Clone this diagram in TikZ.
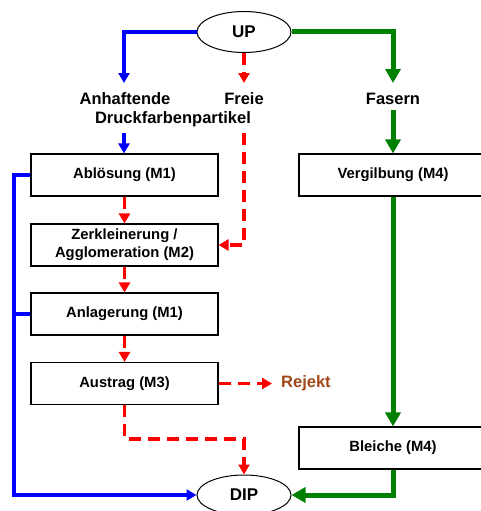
\documentclass[tikz,border=0pt]{standalone}
\usepackage{fontspec}
\setmainfont{Liberation Sans}
\usetikzlibrary{shapes.geometric,arrows.meta}
\definecolor{rejbrown}{RGB}{160,72,24}
\definecolor{grn}{RGB}{0,128,0}
\tikzset{
  boxtext/.style={font=\bfseries\fontsize{14.8}{18}\selectfont},
  proc/.style={draw=black, line width=1.1pt, rectangle, minimum height=42pt, align=center, inner sep=0pt, boxtext},
  lproc/.style={proc, minimum width=187pt},
  rproc/.style={proc, minimum width=188pt},
  oval/.style={draw=black, line width=1pt, ellipse, minimum width=94pt, minimum height=41pt, inner sep=0pt, font=\bfseries\fontsize{17}{20}\selectfont},
  lbl/.style={inner sep=0pt, font=\bfseries\fontsize{16.5}{20}\selectfont},
  blueline/.style={draw=blue, line width=4pt, -{Triangle[width=11pt,length=10pt]}},
  bluenoarrow/.style={draw=blue, line width=4pt},
  greenline/.style={draw=grn, line width=5pt, -{Triangle[width=15pt,length=14pt]}},
  redline/.style={draw=red, line width=3.6pt, dash pattern=on 12pt off 7pt, -{Triangle[width=11pt,length=10pt]}},
}
\begin{document}
\begin{tikzpicture}[x=1pt,y=-1pt]
\useasboundingbox (0,0) rectangle (481,511);
% nodes
\node[oval] (up) at (244,32) {UP};
\node[oval, minimum height=40pt] (dip) at (244,495) {DIP};
\node[lbl] (anh) at (125,98.5) {Anhaftende};
\node[lbl] (druck) at (173,119) {Druckfarbenpartikel};
\node[lbl] (freie) at (244,98.5) {Freie};
\node[lbl] (fas) at (393,98.5) {Fasern};
\node[lproc] (abl) at (124.5,175) {Ablösung (M1)};
\node[lproc] (zerk) at (124.5,245) {Zerkleinerung /\\Agglomeration (M2)};
\node[lproc] (anl) at (124.5,314) {Anlagerung (M1)};
\node[lproc] (aus) at (124.5,383.5) {Austrag (M3)};
\node[rproc] (verg) at (393,175) {Vergilbung (M4)};
\node[rproc] (ble) at (393,448) {Bleiche (M4)};
\node[lbl, anchor=west, text=rejbrown] (rej) at (281,383.5) {Rejekt};
% coordinates
\coordinate (bA) at (124,83);
\coordinate (bB) at (124,133);
\coordinate (rA) at (244,83);
\coordinate (rB) at (244,133);
\coordinate (gA) at (393,83);
\coordinate (gB) at (393,110);
\coordinate (rejend) at (272,383.5);
% blue
\draw[blueline] (up.west) -| (bA);
\draw[blueline] (bB) -- (abl.north -| bB);
\draw[blueline] (abl.west) -- (14,175) -- (14,495) -- (dip.west);
\draw[bluenoarrow] (anl.west) -- (14,314);
% green
\draw[greenline] (up.east) -| (gA);
\draw[greenline] (gB) -- (verg.north);
\draw[greenline] (verg.south) -- (ble.north);
\draw[greenline] (ble.south) -- (393,495) -- (dip.east);
% red
\draw[redline] (up.south) -- (rA);
\draw[redline] (rB) -- (244,245) -- (zerk.east);
\draw[redline] (abl.south) -- (zerk.north);
\draw[redline] (zerk.south) -- (anl.north);
\draw[redline] (anl.south) -- (aus.north);
\draw[redline] (aus.east) -- (rejend);
\draw[redline] (aus.south) -- (124.5,439) -- (244,439) -- (dip.north);
\end{tikzpicture}
\end{document}
